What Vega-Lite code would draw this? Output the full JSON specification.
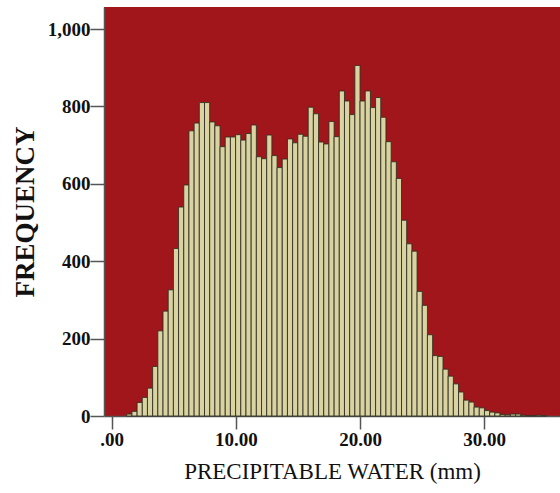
{
  "$schema": "https://vega.github.io/schema/vega-lite/v6.json",
  "autosize": {"type": "none"},
  "padding": {"left": 104, "top": 7, "right": 0, "bottom": 77},
  "width": 456,
  "height": 409,
  "background": "white",
  "config": {"view": {"fill": "#a1161b", "stroke": null}},
  "data": {"values": [
    {"x0": 1.210, "x1": 1.628, "count": 5},
    {"x0": 1.628, "x1": 2.045, "count": 12},
    {"x0": 2.045, "x1": 2.463, "count": 35},
    {"x0": 2.463, "x1": 2.880, "count": 48},
    {"x0": 2.880, "x1": 3.298, "count": 72},
    {"x0": 3.298, "x1": 3.715, "count": 128},
    {"x0": 3.715, "x1": 4.133, "count": 220},
    {"x0": 4.133, "x1": 4.550, "count": 271},
    {"x0": 4.550, "x1": 4.968, "count": 326},
    {"x0": 4.968, "x1": 5.385, "count": 433},
    {"x0": 5.385, "x1": 5.803, "count": 540},
    {"x0": 5.803, "x1": 6.220, "count": 597},
    {"x0": 6.220, "x1": 6.638, "count": 737},
    {"x0": 6.638, "x1": 7.055, "count": 757},
    {"x0": 7.055, "x1": 7.473, "count": 810},
    {"x0": 7.473, "x1": 7.890, "count": 810},
    {"x0": 7.890, "x1": 8.308, "count": 760},
    {"x0": 8.308, "x1": 8.725, "count": 750},
    {"x0": 8.725, "x1": 9.143, "count": 696},
    {"x0": 9.143, "x1": 9.560, "count": 721},
    {"x0": 9.560, "x1": 9.978, "count": 721},
    {"x0": 9.978, "x1": 10.395, "count": 727},
    {"x0": 10.395, "x1": 10.813, "count": 713},
    {"x0": 10.813, "x1": 11.230, "count": 730},
    {"x0": 11.230, "x1": 11.648, "count": 752},
    {"x0": 11.648, "x1": 12.065, "count": 670},
    {"x0": 12.065, "x1": 12.483, "count": 665},
    {"x0": 12.483, "x1": 12.900, "count": 726},
    {"x0": 12.900, "x1": 13.318, "count": 673},
    {"x0": 13.318, "x1": 13.735, "count": 642},
    {"x0": 13.735, "x1": 14.153, "count": 664},
    {"x0": 14.153, "x1": 14.570, "count": 716},
    {"x0": 14.570, "x1": 14.988, "count": 706},
    {"x0": 14.988, "x1": 15.405, "count": 728},
    {"x0": 15.405, "x1": 15.823, "count": 723},
    {"x0": 15.823, "x1": 16.240, "count": 798},
    {"x0": 16.240, "x1": 16.658, "count": 781},
    {"x0": 16.658, "x1": 17.075, "count": 708},
    {"x0": 17.075, "x1": 17.493, "count": 703},
    {"x0": 17.493, "x1": 17.910, "count": 761},
    {"x0": 17.910, "x1": 18.328, "count": 722},
    {"x0": 18.328, "x1": 18.745, "count": 840},
    {"x0": 18.745, "x1": 19.163, "count": 814},
    {"x0": 19.163, "x1": 19.580, "count": 779},
    {"x0": 19.580, "x1": 19.998, "count": 906},
    {"x0": 19.998, "x1": 20.415, "count": 814},
    {"x0": 20.415, "x1": 20.833, "count": 840},
    {"x0": 20.833, "x1": 21.250, "count": 797},
    {"x0": 21.250, "x1": 21.668, "count": 823},
    {"x0": 21.668, "x1": 22.085, "count": 772},
    {"x0": 22.085, "x1": 22.503, "count": 709},
    {"x0": 22.503, "x1": 22.920, "count": 657},
    {"x0": 22.920, "x1": 23.338, "count": 614},
    {"x0": 23.338, "x1": 23.755, "count": 506},
    {"x0": 23.755, "x1": 24.173, "count": 445},
    {"x0": 24.173, "x1": 24.590, "count": 426},
    {"x0": 24.590, "x1": 25.008, "count": 322},
    {"x0": 25.008, "x1": 25.425, "count": 286},
    {"x0": 25.425, "x1": 25.843, "count": 210},
    {"x0": 25.843, "x1": 26.260, "count": 156},
    {"x0": 26.260, "x1": 26.678, "count": 154},
    {"x0": 26.678, "x1": 27.095, "count": 121},
    {"x0": 27.095, "x1": 27.513, "count": 103},
    {"x0": 27.513, "x1": 27.930, "count": 83},
    {"x0": 27.930, "x1": 28.348, "count": 62},
    {"x0": 28.348, "x1": 28.765, "count": 41},
    {"x0": 28.765, "x1": 29.183, "count": 36},
    {"x0": 29.183, "x1": 29.600, "count": 23},
    {"x0": 29.600, "x1": 30.018, "count": 21},
    {"x0": 30.018, "x1": 30.435, "count": 14},
    {"x0": 30.435, "x1": 30.853, "count": 10},
    {"x0": 30.853, "x1": 31.270, "count": 8},
    {"x0": 31.270, "x1": 31.688, "count": 4},
    {"x0": 31.688, "x1": 32.105, "count": 3},
    {"x0": 32.105, "x1": 32.523, "count": 5},
    {"x0": 32.523, "x1": 32.940, "count": 5},
    {"x0": 32.940, "x1": 33.358, "count": 2},
    {"x0": 33.358, "x1": 33.775, "count": 1},
    {"x0": 33.775, "x1": 34.193, "count": 1},
    {"x0": 34.193, "x1": 34.610, "count": 2},
    {"x0": 34.610, "x1": 35.028, "count": 1}
  ]},
  "mark": {"type": "bar", "fill": "#d8d3a0", "stroke": "#2e2e22", "strokeWidth": 1, "strokeOpacity": 0.85},
  "encoding": {
    "x": {
      "field": "x0", "type": "quantitative",
      "scale": {"domain": [-0.62, 36.1], "nice": false, "zero": false},
      "axis": {
        "title": "PRECIPITABLE WATER (mm)",
        "values": [0, 10, 20, 30],
        "labelExpr": "datum.value == 0 ? '.00' : format(datum.value, '.2f')",
        "grid": false,
        "domainColor": "#555555", "tickColor": "#555555", "tickSize": 13, "domainWidth": 1.5, "tickWidth": 1.5,
        "labelFont": "Liberation Serif", "labelFontSize": 19, "labelFontWeight": "bold", "labelColor": "#111111", "labelPadding": 1,
        "titleFont": "Liberation Serif", "titleFontSize": 23, "titleFontWeight": "normal", "titleColor": "#111111", "titlePadding": 11
      }
    },
    "x2": {"field": "x1"},
    "y": {
      "field": "count", "type": "quantitative",
      "scale": {"domain": [0, 1057], "nice": false},
      "axis": {
        "title": "FREQUENCY",
        "values": [0, 200, 400, 600, 800, 1000],
        "format": ",d",
        "grid": false,
        "domainColor": "#555555", "tickColor": "#555555", "tickSize": 14, "domainWidth": 1.5, "tickWidth": 1.5,
        "labelFont": "Liberation Serif", "labelFontSize": 19, "labelFontWeight": "bold", "labelColor": "#111111", "labelPadding": 0,
        "titleFont": "Liberation Serif", "titleFontSize": 27, "titleFontWeight": "bold", "titleColor": "#111111", "titlePadding": 8
      }
    },
    "y2": {"datum": 0}
  }
}
